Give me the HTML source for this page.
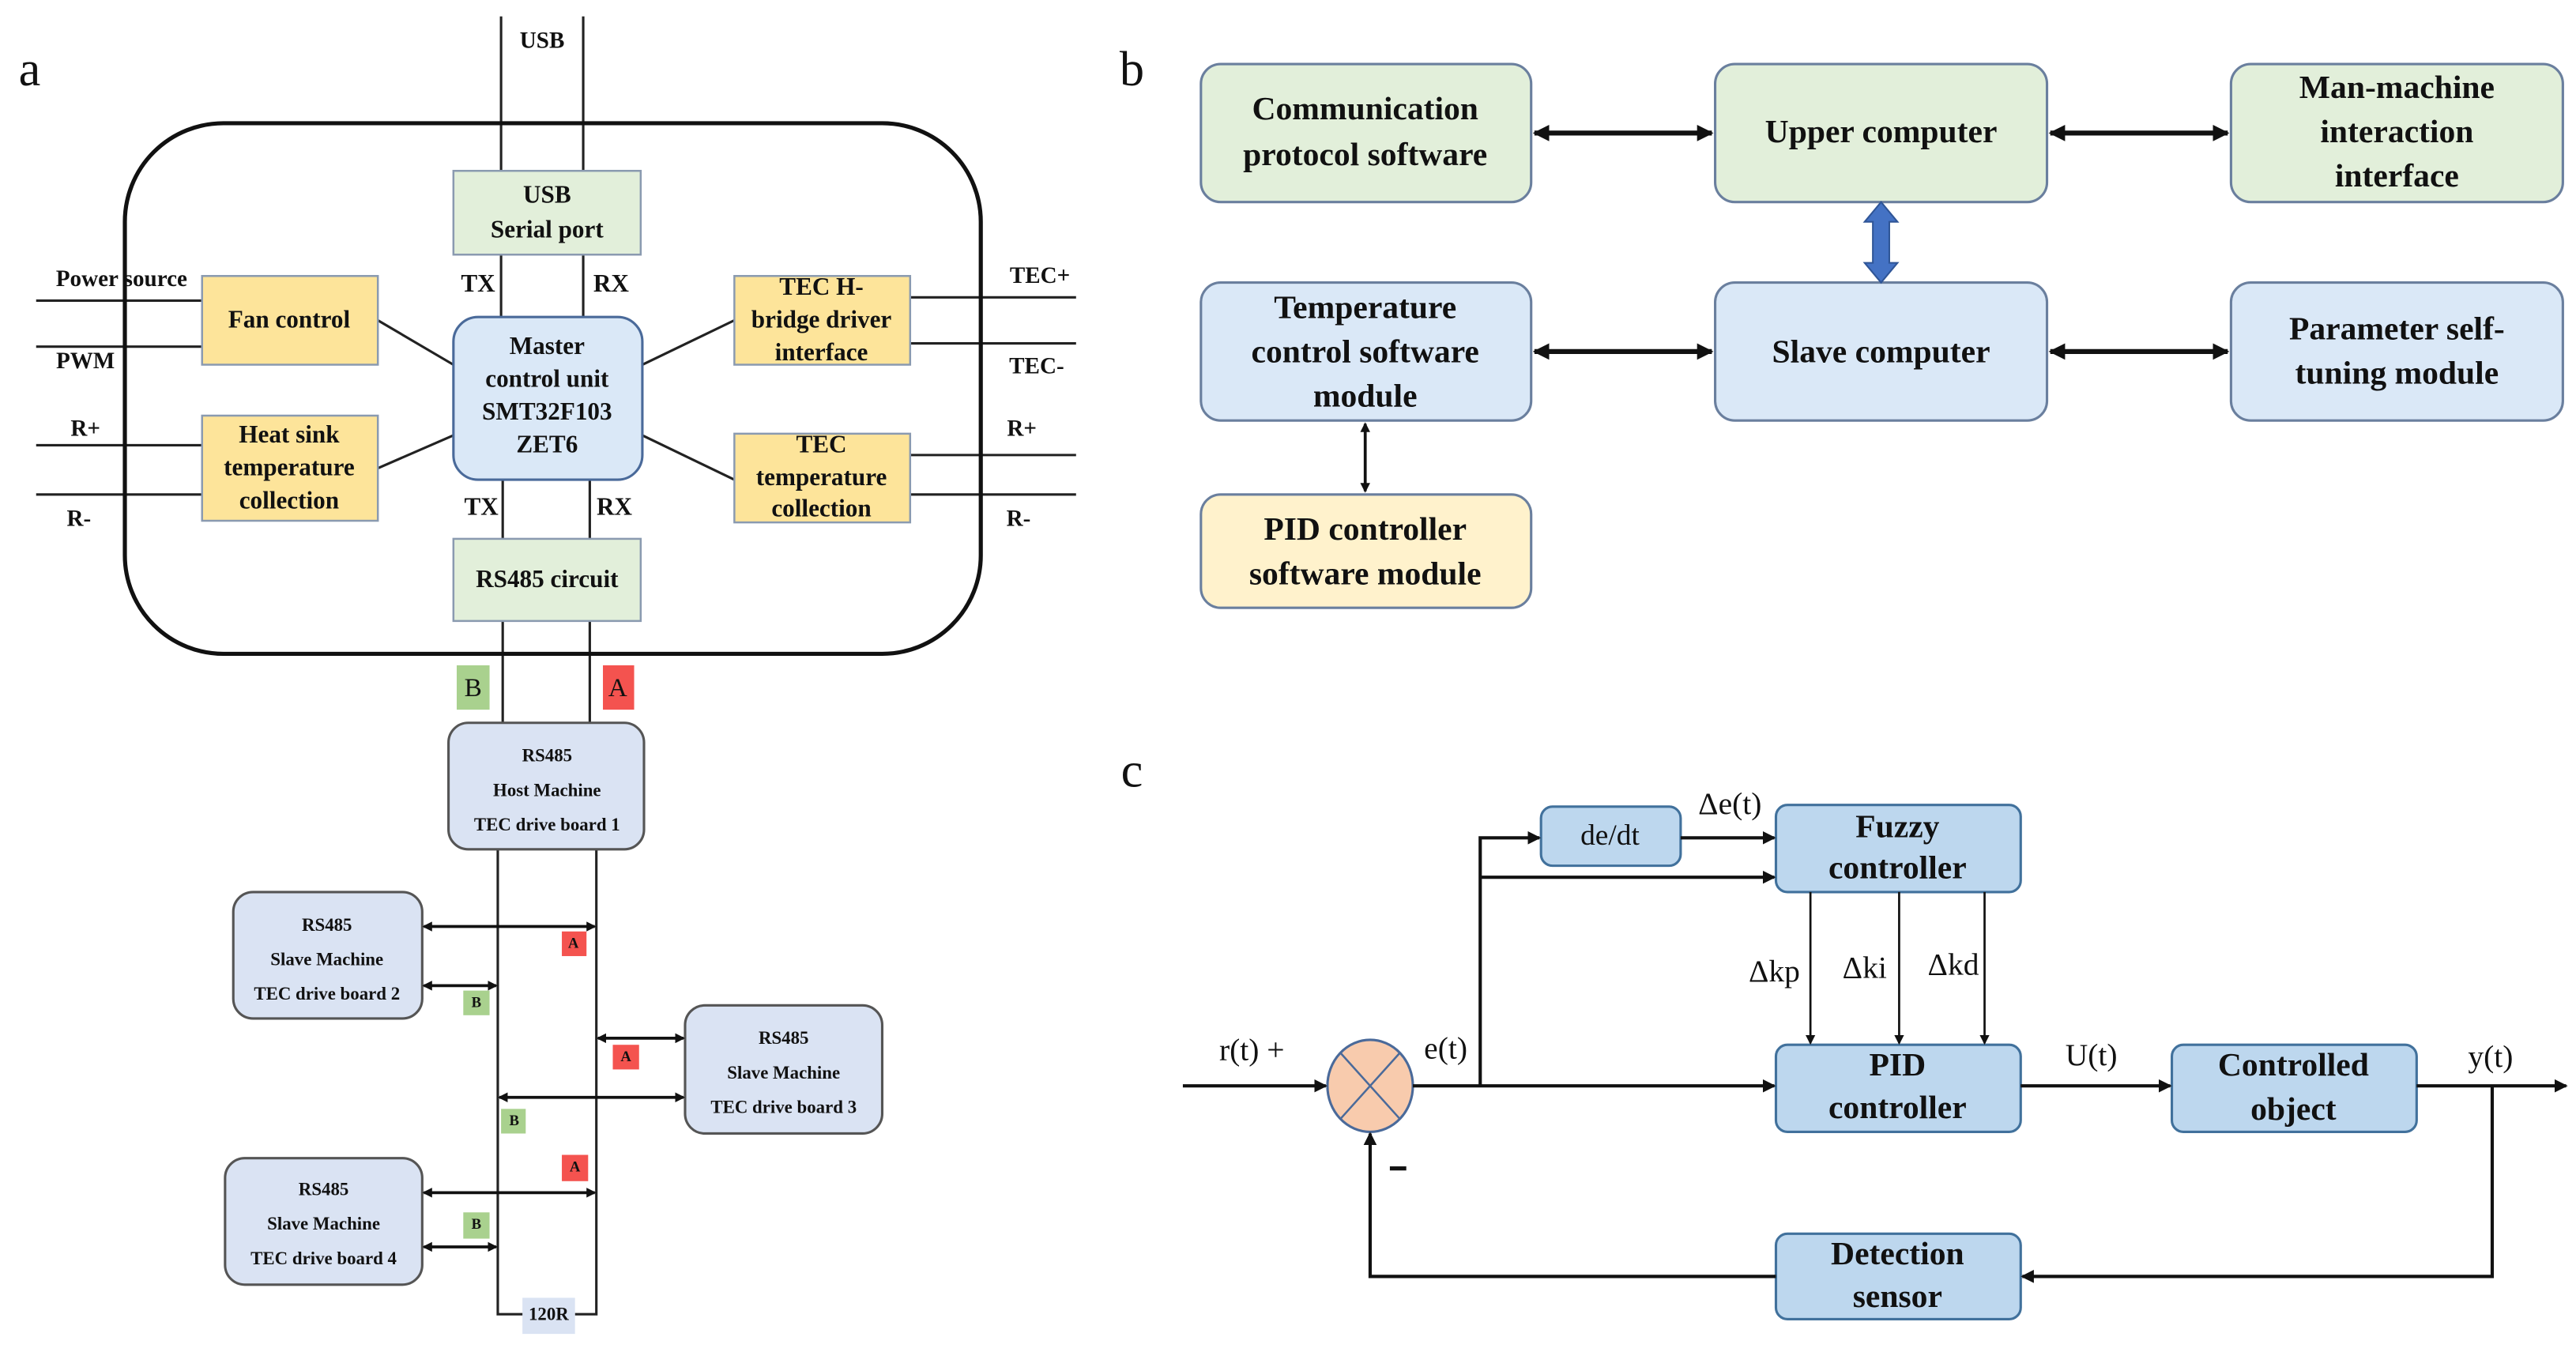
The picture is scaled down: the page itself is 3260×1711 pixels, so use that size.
<!DOCTYPE html>
<html><head><meta charset="utf-8"><style>
html,body{margin:0;padding:0;background:#fff;}
svg{display:block;}
text{font-family:"Liberation Serif",serif;font-weight:bold;fill:#111;text-anchor:middle;dominant-baseline:middle;}
</style></head><body>
<svg width="3260" height="1711" viewBox="0 0 1568 823" preserveAspectRatio="none" xmlns="http://www.w3.org/2000/svg">
<defs>
<marker id="ah" markerWidth="8" markerHeight="8" refX="7" refY="4" orient="auto" markerUnits="userSpaceOnUse"><path d="M0,0 L8,4 L0,8 z" fill="#111"/></marker>
<marker id="as" markerWidth="6" markerHeight="6" refX="5" refY="3" orient="auto-start-reverse" markerUnits="userSpaceOnUse"><path d="M0,0 L6,3 L0,6 z" fill="#111"/></marker>
<marker id="ab" markerWidth="10" markerHeight="10" refX="9" refY="5" orient="auto-start-reverse" markerUnits="userSpaceOnUse"><path d="M0,0 L10,5 L0,10 z" fill="#111"/></marker>
</defs>

<!-- Panel a -->
<text x="18" y="45" style="font-weight:normal;font-size:30px">a</text>
<g stroke="#222" stroke-width="1.5" fill="none">
<line x1="305" y1="10" x2="305" y2="193"/><line x1="355" y1="10" x2="355" y2="193"/>
<line x1="306" y1="292" x2="306" y2="440"/><line x1="359" y1="292" x2="359" y2="440"/>
<line x1="22" y1="183" x2="123" y2="183"/><line x1="22" y1="211" x2="123" y2="211"/>
<line x1="22" y1="271" x2="123" y2="271"/><line x1="22" y1="301" x2="123" y2="301"/>
<line x1="554" y1="181" x2="655" y2="181"/><line x1="554" y1="209" x2="655" y2="209"/>
<line x1="554" y1="277" x2="655" y2="277"/><line x1="554" y1="301" x2="655" y2="301"/>
<line x1="230" y1="195" x2="276" y2="222"/><line x1="230" y1="285" x2="276" y2="265"/>
<line x1="447" y1="195" x2="391" y2="222"/><line x1="447" y1="292" x2="391" y2="265"/>
</g>
<rect x="76" y="75" width="521" height="323" rx="60" fill="none" stroke="#111" stroke-width="2.5"/>
<text x="330" y="26" font-size="14">USB</text>
<rect x="276" y="104" width="114" height="51" fill="#e2efda" stroke="#8a9ab0" stroke-width="1.2"/>
<text x="333" y="120" font-size="15">USB</text><text x="333" y="141" font-size="15">Serial port</text>
<text x="291" y="174" font-size="15">TX</text><text x="372" y="174" font-size="15">RX</text>
<rect x="276" y="193" width="115" height="99" rx="15" fill="#dae8f7" stroke="#4a6a9a" stroke-width="1.5"/>
<text x="333" y="212" font-size="15">Master</text><text x="333" y="232" font-size="15">control unit</text>
<text x="333" y="252" font-size="15">SMT32F103</text><text x="333" y="272" font-size="15">ZET6</text>
<rect x="123" y="168" width="107" height="54" fill="#fde49a" stroke="#8a9ab0" stroke-width="1.2"/>
<text x="176" y="196" font-size="15">Fan control</text>
<text x="74" y="171" font-size="14">Power source</text>
<text x="52" y="221" font-size="14">PWM</text>
<rect x="123" y="253" width="107" height="64" fill="#fde49a" stroke="#8a9ab0" stroke-width="1.2"/>
<text x="176" y="266" font-size="15">Heat sink</text><text x="176" y="286" font-size="15">temperature</text><text x="176" y="306" font-size="15">collection</text>
<text x="52" y="262" font-size="14">R+</text><text x="48" y="317" font-size="14">R-</text>
<rect x="447" y="168" width="107" height="54" fill="#fde49a" stroke="#8a9ab0" stroke-width="1.2"/>
<text x="500" y="176" font-size="15">TEC H-</text><text x="500" y="196" font-size="15">bridge driver</text><text x="500" y="216" font-size="15">interface</text>
<text x="633" y="169" font-size="14">TEC+</text><text x="631" y="224" font-size="14">TEC-</text>
<rect x="447" y="264" width="107" height="54" fill="#fde49a" stroke="#8a9ab0" stroke-width="1.2"/>
<text x="500" y="272" font-size="15">TEC</text><text x="500" y="292" font-size="15">temperature</text><text x="500" y="311" font-size="15">collection</text>
<text x="622" y="262" font-size="14">R+</text><text x="620" y="317" font-size="14">R-</text>
<text x="293" y="310" font-size="15">TX</text><text x="374" y="310" font-size="15">RX</text>
<rect x="276" y="328" width="114" height="50" fill="#e2efda" stroke="#8a9ab0" stroke-width="1.2"/>
<text x="333" y="354" font-size="15">RS485 circuit</text>
<rect x="278" y="405" width="20" height="27" fill="#a9d18e"/><text x="288" y="420" font-size="16" style="font-weight:normal">B</text>
<rect x="367" y="405" width="19" height="27" fill="#f4534f"/><text x="376" y="420" font-size="16" style="font-weight:normal">A</text>

<g stroke="#222" stroke-width="1.5" fill="none">
<polyline points="303,517 303,800 320,800"/><polyline points="350,800 363,800 363,517"/>
</g>
<rect x="318" y="790" width="32" height="22" fill="#dae3f3"/><text x="334" y="801" font-size="11">120R</text>
<g font-size="11">
<rect x="273" y="440" width="119" height="77" rx="12" fill="#dae3f3" stroke="#555" stroke-width="1.5"/>
<text x="333" y="461">RS485</text><text x="333" y="482">Host Machine</text><text x="333" y="503">TEC drive board 1</text>
<rect x="142" y="543" width="115" height="77" rx="12" fill="#dae3f3" stroke="#555" stroke-width="1.5"/>
<text x="199" y="564">RS485</text><text x="199" y="585">Slave Machine</text><text x="199" y="606">TEC drive board 2</text>
<rect x="417" y="612" width="120" height="78" rx="12" fill="#dae3f3" stroke="#555" stroke-width="1.5"/>
<text x="477" y="633">RS485</text><text x="477" y="654">Slave Machine</text><text x="477" y="675">TEC drive board 3</text>
<rect x="137" y="705" width="120" height="77" rx="12" fill="#dae3f3" stroke="#555" stroke-width="1.5"/>
<text x="197" y="725">RS485</text><text x="197" y="746">Slave Machine</text><text x="197" y="767">TEC drive board 4</text>
</g>
<g stroke="#111" stroke-width="1.8" marker-start="url(#as)" marker-end="url(#as)">
<line x1="258" y1="564" x2="362" y2="564"/><line x1="258" y1="600" x2="302" y2="600"/>
<line x1="364" y1="632" x2="416" y2="632"/><line x1="304" y1="668" x2="416" y2="668"/>
<line x1="258" y1="726" x2="362" y2="726"/><line x1="258" y1="759" x2="302" y2="759"/>
</g>
<g font-size="9">
<rect x="342" y="567" width="15" height="15" fill="#f4534f"/><text x="349" y="575">A</text>
<rect x="282" y="603" width="16" height="15" fill="#a9d18e"/><text x="290" y="611">B</text>
<rect x="373" y="636" width="16" height="15" fill="#f4534f"/><text x="381" y="644">A</text>
<rect x="305" y="675" width="15" height="15" fill="#a9d18e"/><text x="313" y="683">B</text>
<rect x="342" y="703" width="16" height="16" fill="#f4534f"/><text x="350" y="711">A</text>
<rect x="282" y="738" width="16" height="16" fill="#a9d18e"/><text x="290" y="746">B</text>
</g>

<!-- Panel b -->
<text x="689" y="45" style="font-weight:normal;font-size:30px">b</text>
<g stroke="#6a7f9e" stroke-width="1.5">
<rect x="731" y="39" width="201" height="84" rx="12" fill="#e2efda"/>
<rect x="1044" y="39" width="202" height="84" rx="12" fill="#e2efda"/>
<rect x="1358" y="39" width="202" height="84" rx="12" fill="#e2efda"/>
<rect x="731" y="172" width="201" height="84" rx="12" fill="#dae8f7"/>
<rect x="1044" y="172" width="202" height="84" rx="12" fill="#dae8f7"/>
<rect x="1358" y="172" width="202" height="84" rx="12" fill="#dae8f7"/>
<rect x="731" y="301" width="201" height="69" rx="12" fill="#fff2cc"/>
</g>
<g font-size="20">
<text x="831" y="68">Communication</text><text x="831" y="96">protocol software</text>
<text x="1145" y="82">Upper computer</text>
<text x="1459" y="55">Man-machine</text><text x="1459" y="82">interaction</text><text x="1459" y="109">interface</text>
<text x="831" y="189">Temperature</text><text x="831" y="216">control software</text><text x="831" y="243">module</text>
<text x="1145" y="216">Slave computer</text>
<text x="1459" y="202">Parameter self-</text><text x="1459" y="229">tuning module</text>
<text x="831" y="324">PID controller</text><text x="831" y="351">software module</text>
</g>
<g stroke="#111" stroke-width="3" marker-start="url(#ab)" marker-end="url(#ab)">
<line x1="934" y1="81" x2="1042" y2="81"/><line x1="1248" y1="81" x2="1356" y2="81"/>
<line x1="934" y1="214" x2="1042" y2="214"/><line x1="1248" y1="214" x2="1356" y2="214"/>
</g>
<line x1="831" y1="258" x2="831" y2="299" stroke="#111" stroke-width="1.8" marker-start="url(#as)" marker-end="url(#as)"/>
<path d="M1145,123 L1155,135 L1150,135 L1150,160 L1155,160 L1145,172 L1135,160 L1140,160 L1140,135 L1135,135 Z" fill="#4472c4" stroke="#2f5597" stroke-width="1"/>

<!-- Panel c -->
<text x="689" y="472" style="font-weight:normal;font-size:30px">c</text>
<g stroke="#41719c" stroke-width="1.5" fill="#bdd7ee">
<rect x="938" y="491" width="85" height="36" rx="7"/>
<rect x="1081" y="490" width="149" height="53" rx="7"/>
<rect x="1081" y="636" width="149" height="53" rx="7"/>
<rect x="1322" y="636" width="149" height="53" rx="7"/>
<rect x="1081" y="751" width="149" height="52" rx="7"/>
</g>
<text x="980" y="510" font-size="18" style="font-weight:normal">de/dt</text>
<g font-size="20">
<text x="1155" y="505">Fuzzy</text><text x="1155" y="530">controller</text>
<text x="1155" y="650">PID</text><text x="1155" y="676">controller</text>
<text x="1396" y="650">Controlled</text><text x="1396" y="677">object</text>
<text x="1155" y="765">Detection</text><text x="1155" y="791">sensor</text>
</g>
<ellipse cx="834" cy="661" rx="26" ry="28" fill="#f8cbad" stroke="#4a6a9a" stroke-width="1.5"/>
<g stroke="#4a6a9a" stroke-width="1.2"><line x1="816" y1="641" x2="852" y2="681"/><line x1="852" y1="641" x2="816" y2="681"/></g>
<g stroke="#111" stroke-width="2" fill="none">
<line x1="720" y1="661" x2="807" y2="661" marker-end="url(#ah)"/>
<line x1="860" y1="661" x2="1080" y2="661" marker-end="url(#ah)"/>
<polyline points="901,661 901,510 937,510" marker-end="url(#ah)"/>
<line x1="901" y1="534" x2="1080" y2="534" marker-end="url(#ah)"/>
<line x1="1023" y1="510" x2="1080" y2="510" marker-end="url(#ah)"/>
<line x1="1230" y1="661" x2="1321" y2="661" marker-end="url(#ah)"/>
<line x1="1471" y1="661" x2="1562" y2="661" marker-end="url(#ah)"/>
<polyline points="1517,661 1517,777 1231,777" marker-end="url(#ah)"/>
<polyline points="1081,777 834,777 834,690" marker-end="url(#ah)"/>
</g>
<g stroke="#111" stroke-width="1.3">
<line x1="1102" y1="543" x2="1102" y2="635" marker-end="url(#as)"/>
<line x1="1156" y1="543" x2="1156" y2="635" marker-end="url(#as)"/>
<line x1="1208" y1="543" x2="1208" y2="635" marker-end="url(#as)"/>
</g>
<g font-size="19" style="font-weight:normal">
<text x="762" y="641" style="font-weight:normal">r(t) +</text>
<text x="880" y="640" style="font-weight:normal">e(t)</text>
<text x="1053" y="491" style="font-weight:normal">Δe(t)</text>
<text x="1080" y="593" style="font-weight:normal">Δkp</text>
<text x="1135" y="591" style="font-weight:normal">Δki</text>
<text x="1189" y="589" style="font-weight:normal">Δkd</text>
<text x="1273" y="644" style="font-weight:normal">U(t)</text>
<text x="1516" y="645" style="font-weight:normal">y(t)</text>
</g>
<rect x="846" y="710" width="10" height="2.5" fill="#111"/>
</svg>
</body></html>
